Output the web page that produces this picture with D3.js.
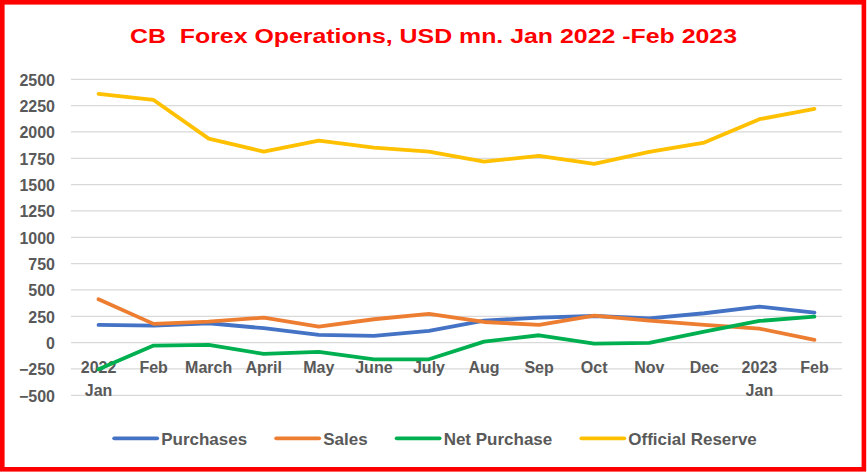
<!DOCTYPE html>
<html>
<head>
<meta charset="utf-8">
<script src="https://cdn.jsdelivr.net/npm/d3@7"></script>
<style>
  html, body { margin: 0; padding: 0; background: #fff; }
  svg { display: block; font-family: "Liberation Sans", Arial, sans-serif; }
</style>
</head>
<body>
<div id="chart"></div>
<script>
// Chart data
const months = ['Jan22', 'Feb22', 'Mar22', 'Apr22', 'May22', 'Jun22', 'Jul22',
  'Aug22', 'Sep22', 'Oct22', 'Nov22', 'Dec22', 'Jan23', 'Feb23'];
const monthLabels = [['2022', 'Jan'], ['Feb'], ['March'], ['April'], ['May'], ['June'], ['July'],
  ['Aug'], ['Sep'], ['Oct'], ['Nov'], ['Dec'], ['2023', 'Jan'], ['Feb']];
const purchases = [168, 162, 184, 137, 73, 64, 111, 209, 237, 253, 231, 279, 342, 285];
const sales = [412, 178, 200, 237, 152, 222, 272, 196, 168, 256, 209, 168, 133, 26];
const netPurchase = [-253, -28, -22, -107, -88, -158, -158, 10, 70, -9, -3, 104, 206, 247];
const officialReserve = [2361, 2304, 1937, 1813, 1918, 1851, 1813, 1718, 1773, 1697, 1810, 1899, 2121, 2219];
const yTicks = [-500, -250, 0, 250, 500, 750, 1000, 1250, 1500, 1750, 2000, 2250, 2500];

const series = [
  { name: 'Purchases', values: purchases, color: '#4472C4' },
  { name: 'Sales', values: sales, color: '#ED7D31' },
  { name: 'Net Purchase', values: netPurchase, color: '#00B050' },
  { name: 'Official Reserve', values: officialReserve, color: '#FFC000' }
];

const width = 867, height = 472;
const plot = { left: 71, right: 842, top: 79.3, bottom: 395.3 };
const axisColor = '#595959';

const svg = d3.select('#chart').append('svg')
  .attr('width', width)
  .attr('height', height);

svg.append('rect')
  .attr('width', width).attr('height', height)
  .attr('fill', '#fff');

const x = d3.scalePoint()
  .domain(months)
  .range([plot.left, plot.right])
  .padding(0.5);

const y = d3.scaleLinear()
  .domain([-500, 2500])
  .range([plot.bottom, plot.top]);

// Gridlines
svg.append('g')
  .selectAll('line')
  .data(yTicks)
  .join('line')
  .attr('x1', plot.left)
  .attr('x2', plot.right)
  .attr('y1', d => y(d))
  .attr('y2', d => y(d))
  .attr('stroke', '#d9d9d9')
  .attr('stroke-width', 1.2);

// Y axis labels
const yAxis = d3.axisLeft(y)
  .tickValues(yTicks)
  .tickFormat(d3.format('d'))
  .tickSize(0)
  .tickPadding(0);
const yAxisG = svg.append('g')
  .attr('transform', 'translate(55,0)')
  .call(yAxis);
yAxisG.select('.domain').remove();
yAxisG.selectAll('text')
  .attr('fill', axisColor)
  .attr('font-size', 16)
  .attr('font-weight', 'bold')
  .attr('font-family', '"Liberation Sans", Arial, sans-serif')
  .attr('dy', '0.36em');

// X axis labels (below zero line)
const xLabels = svg.append('g')
  .selectAll('text')
  .data(months)
  .join('text')
  .attr('x', d => x(d))
  .attr('y', y(0) + 30.5)
  .attr('text-anchor', 'middle')
  .attr('fill', axisColor)
  .attr('font-size', 16)
  .attr('font-weight', 'bold');
xLabels.selectAll('tspan')
  .data((d, i) => monthLabels[i])
  .join('tspan')
  .attr('x', function () { return d3.select(this.parentNode).attr('x'); })
  .attr('dy', (d, i) => i === 0 ? 0 : 22.7)
  .text(d => d);

// Lines
const line = d3.line()
  .x((d, i) => x(months[i]))
  .y(d => y(d));

svg.append('g')
  .selectAll('path')
  .data(series)
  .join('path')
  .attr('d', d => line(d.values))
  .attr('fill', 'none')
  .attr('stroke', d => d.color)
  .attr('stroke-width', 3.8)
  .attr('stroke-linejoin', 'round')
  .attr('stroke-linecap', 'round');

// Title
svg.append('text')
  .attr('x', width / 2)
  .attr('y', 43.3)
  .attr('text-anchor', 'middle')
  .attr('fill', '#FF0000')
  .attr('font-size', 21)
  .attr('font-weight', 'bold')
  .attr('textLength', 607)
  .attr('lengthAdjust', 'spacingAndGlyphs')
  .style('white-space', 'pre')
  .text('CB  Forex Operations, USD mn. Jan 2022 -Feb 2023');

// Legend
const legend = svg.append('g');
const items = legend.selectAll('g')
  .data(series)
  .join('g');
items.append('line')
  .attr('x1', 0).attr('x2', 43)
  .attr('y1', 0).attr('y2', 0)
  .attr('stroke', d => d.color)
  .attr('stroke-width', 3.8)
  .attr('stroke-linecap', 'round');
items.append('text')
  .attr('x', 47)
  .attr('y', 6.5)
  .attr('fill', axisColor)
  .attr('font-size', 17)
  .attr('font-weight', 'bold')
  .text(d => d.name);

let offset = 0;
const offsets = [];
items.each(function () {
  offsets.push(offset);
  const w = 47 + this.querySelector('text').getComputedTextLength();
  offset += w + 29;
});
const total = offset - 29;
const legendLeft = 435.5 - total / 2;
items.attr('transform', (d, i) => `translate(${legendLeft + offsets[i]},438.3)`);

// Red frame
svg.append('rect')
  .attr('x', 2.3).attr('y', 2.3)
  .attr('width', 861.6).attr('height', 467)
  .attr('fill', 'none')
  .attr('stroke', '#FF0000')
  .attr('stroke-width', 4.6);
</script>
</body>
</html>
